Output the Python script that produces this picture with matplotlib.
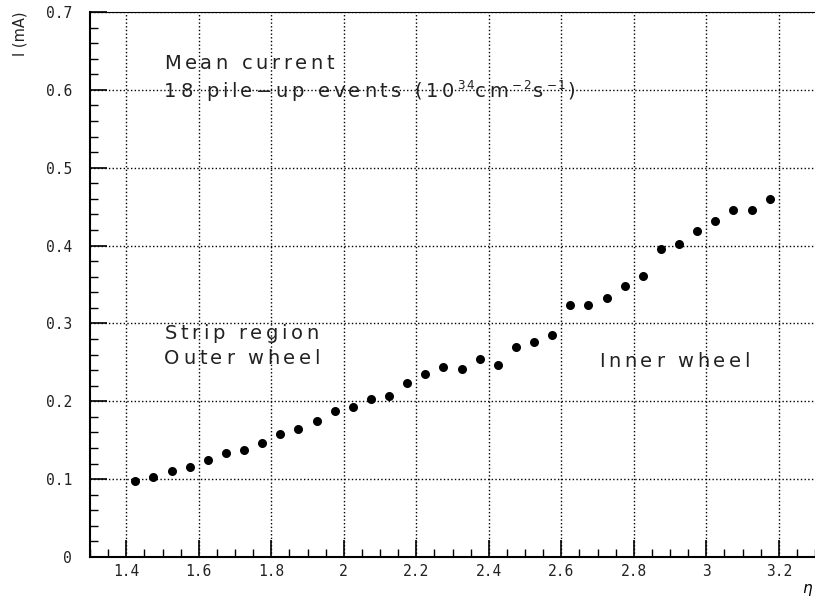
import numpy as np
import matplotlib
matplotlib.use("Agg")
import matplotlib.pyplot as plt
from matplotlib.ticker import MultipleLocator
from matplotlib.transforms import offset_copy

# eta bin centres and mean current (mA)
eta = [1.425, 1.475, 1.525, 1.575, 1.625, 1.675, 1.725, 1.775, 1.825, 1.875,
       1.925, 1.975, 2.025, 2.075, 2.125, 2.175, 2.225, 2.275, 2.325, 2.375,
       2.425, 2.475, 2.525, 2.575, 2.625, 2.675, 2.725, 2.775, 2.825, 2.875,
       2.925, 2.975, 3.025, 3.075, 3.125, 3.175]
current = [0.097, 0.103, 0.110, 0.116, 0.124, 0.133, 0.138, 0.146, 0.158, 0.164,
           0.175, 0.187, 0.193, 0.203, 0.207, 0.223, 0.235, 0.244, 0.241, 0.254,
           0.246, 0.270, 0.276, 0.285, 0.324, 0.324, 0.333, 0.348, 0.361, 0.395,
           0.402, 0.419, 0.431, 0.446, 0.446, 0.460]

xticks = [1.4, 1.6, 1.8, 2.0, 2.2, 2.4, 2.6, 2.8, 3.0, 3.2]
xticklabels = ["1.4", "1.6", "1.8", "2", "2.2", "2.4", "2.6", "2.8", "3", "3.2"]
yticks = [0, 0.1, 0.2, 0.3, 0.4, 0.5, 0.6, 0.7]
yticklabels = ["0", "0.1", "0.2", "0.3", "0.4", "0.5", "0.6", "0.7"]


def spaced_text(ax, x, y, segments, size=14, gap=3.6, color="#222222"):
    # draw text char by char with extra letter spacing (ROOT-like look)
    fig = ax.figure
    r = fig.canvas.get_renderer()
    px = fig.dpi / 72.0
    off = 0.0
    for s, sup in segments:
        fs = size * 0.62 if sup else size
        dy = size * 0.42 * px if sup else 0.0
        g = gap * (0.4 if sup else 1.0)
        for ch in s:
            if ch == " ":
                off += fs * 0.32 * px + g
                continue
            tr = offset_copy(ax.transData, fig=fig, x=off, y=dy, units="dots")
            t = ax.text(x, y, ch, transform=tr, fontsize=fs, color=color,
                        va="baseline", ha="left")
            off += t.get_window_extent(r).width + g


fig = plt.figure(figsize=(8.15, 6.02), dpi=100)
ax = fig.add_axes([90 / 815, 45 / 602, 725 / 815, 545 / 602])

ax.plot(eta, current, "o", color="black", ms=6.5, mew=0)

ax.set_xlim(1.3, 3.3)
ax.set_ylim(0, 0.7)
tick_font = dict(family="DejaVu Sans Mono", fontsize=10.5, color="#222222")
ax.set_xticks(xticks)
ax.set_xticklabels(xticklabels, **tick_font)
ax.set_yticks(yticks)
ax.set_yticklabels(yticklabels, **tick_font)
ax.xaxis.set_minor_locator(MultipleLocator(0.05))
ax.yaxis.set_minor_locator(MultipleLocator(0.02))
ax.tick_params(which="both", direction="in", top=False, right=False)
ax.tick_params(which="major", length=12, width=1.2)
ax.tick_params(which="minor", length=6, width=1.0)
ax.tick_params(axis="x", which="major", pad=5)
ax.tick_params(axis="y", which="major", pad=13)
for s in ["left", "bottom"]:
    ax.spines[s].set_linewidth(1.5)
ax.spines["right"].set_visible(False)
ax.spines["top"].set_linewidth(0.8)

ax.grid(True, which="major", linestyle=":", color="black", linewidth=1.0)

fig.canvas.draw()
spaced_text(ax, 1.505, 0.627, [("Mean current", False)])
spaced_text(ax, 1.505, 0.591, [("18 pile\u2212up events (10", False), ("34", True),
                               ("cm", False), ("\u22122", True), ("s", False),
                               ("\u22121", True), (")", False)])
spaced_text(ax, 1.505, 0.280, [("Strip region", False)])
spaced_text(ax, 1.505, 0.248, [("Outer wheel", False)])
spaced_text(ax, 2.705, 0.244, [("Inner wheel", False)])

fig.text(20 / 815, 1 - 34 / 602, "I (mA)", rotation=90, ha="center",
         va="center", fontsize=10.5, color="#222222")
fig.text(808 / 815, 1 - 590 / 602, r"$\eta$", ha="center", va="center",
         fontsize=11)

fig.savefig("out.png", dpi=100)
